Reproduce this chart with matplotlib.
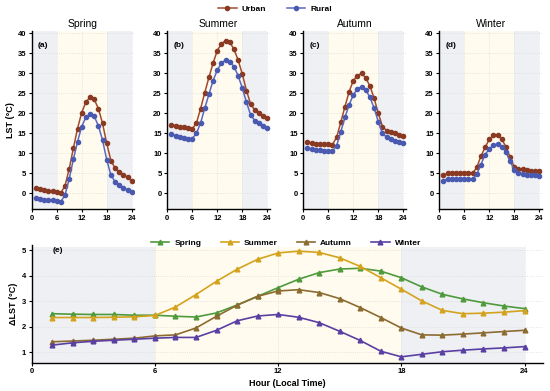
import matplotlib
matplotlib.use('Agg')
import matplotlib.pyplot as plt
import numpy as np

plt.rcParams['font.family'] = ['Liberation Sans', 'DejaVu Sans']

hours = list(range(1, 25))
seasons = ['Spring', 'Summer', 'Autumn', 'Winter']
panel_labels = ['(a)', '(b)', '(c)', '(d)']

# LST (°C) per season, urban and rural
urban_spring = [1.25, 1.0, 0.8, 0.6, 0.45, 0.3, 0.1, 1.9, 6.1, 11.25, 16.2, 20.2, 22.8, 24.0,
                23.5, 21.2, 17.5, 12.5, 8.2, 6.3, 5.3, 4.7, 4.0, 3.1]
rural_spring = [-1.1, -1.4, -1.6, -1.7, -1.8, -1.9, -2.1, -0.4, 3.6, 8.5, 12.9, 16.7, 19.0, 19.8,
                19.25, 16.9, 13.3, 8.4, 4.6, 2.9, 2.1, 1.3, 0.8, 0.25]
urban_summer = [17.2, 16.9, 16.7, 16.5, 16.3, 16.1, 17.6, 21.2, 25.2, 29.0, 32.6, 35.7, 37.4, 38.2,
                37.8, 36.0, 33.3, 29.8, 25.7, 22.3, 20.8, 20.0, 19.4, 18.8]
rural_summer = [14.75, 14.4, 14.1, 13.9, 13.7, 13.7, 15.0, 17.6, 21.3, 24.8, 28.2, 30.8, 32.6, 33.3,
                32.9, 31.7, 29.4, 26.3, 22.75, 19.6, 18.2, 17.5, 16.9, 16.25]
urban_autumn = [12.75, 12.5, 12.4, 12.3, 12.3, 12.25, 12.2, 14.0, 17.75, 21.7, 25.4, 28.2, 29.4, 30.0,
                28.8, 26.8, 23.75, 20.0, 16.7, 15.7, 15.25, 15.0, 14.7, 14.4]
rural_autumn = [11.25, 11.0, 10.9, 10.8, 10.7, 10.65, 10.5, 11.9, 15.4, 19.0, 22.1, 24.6, 26.1, 26.7,
                25.8, 24.0, 21.3, 17.9, 15.0, 14.0, 13.5, 13.2, 12.8, 12.5]
urban_winter = [4.5, 5.0, 5.0, 5.0, 5.0, 5.0, 5.0, 5.0, 6.5, 9.3, 11.5, 13.5, 14.5, 14.5,
                13.5, 11.6, 9.0, 6.6, 6.2, 6.0, 5.8, 5.7, 5.6, 5.6]
rural_winter = [3.2, 3.5, 3.5, 3.5, 3.5, 3.5, 3.5, 3.5, 4.8, 7.2, 9.7, 11.1, 12.1, 12.3,
                11.7, 10.25, 8.0, 5.8, 5.2, 4.9, 4.7, 4.6, 4.5, 4.4]

# ΔLST (°C) = urban - rural
dlst_spring = [2.52, 2.50, 2.49, 2.49, 2.46, 2.46, 2.42, 2.39, 2.55, 2.86, 3.20, 3.54, 3.87, 4.13,
               4.27, 4.30, 4.19, 3.93, 3.57, 3.28, 3.10, 2.95, 2.82, 2.72]
dlst_summer = [2.37, 2.37, 2.37, 2.38, 2.40, 2.45, 2.78, 3.27, 3.79, 4.26, 4.65, 4.90, 4.97, 4.92,
               4.71, 4.37, 3.93, 3.48, 3.02, 2.65, 2.52, 2.54, 2.58, 2.64]
dlst_autumn = [1.42, 1.45, 1.48, 1.52, 1.56, 1.65, 1.69, 1.96, 2.42, 2.85, 3.20, 3.41, 3.46, 3.35,
               3.11, 2.76, 2.37, 1.96, 1.69, 1.68, 1.72, 1.77, 1.82, 1.87]
dlst_winter = [1.29, 1.38, 1.44, 1.48, 1.52, 1.56, 1.59, 1.59, 1.87, 2.24, 2.43, 2.49, 2.38, 2.17,
               1.83, 1.47, 1.05, 0.83, 0.93, 1.03, 1.09, 1.14, 1.18, 1.23]

urban = [urban_spring, urban_summer, urban_autumn, urban_winter]
rural = [rural_spring, rural_summer, rural_autumn, rural_winter]
dlst = [dlst_spring, dlst_summer, dlst_autumn, dlst_winter]

c_urban, c_rural = '#a34a2c', '#5868c0'
season_colors = ['#4f9a3c', '#d4a31e', '#8c6b30', '#5a3fa3']
night_col, day_col = '#eef0f4', '#fffcef'
W, H = 550, 391


def style_axis(ax):
    for s in ['top', 'right']:
        ax.spines[s].set_visible(False)
    for s in ['left', 'bottom']:
        ax.spines[s].set_linewidth(1.0)
    ax.tick_params(length=2.5, width=0.8, pad=1.5, labelsize=5.5)
    for lab in ax.get_xticklabels() + ax.get_yticklabels():
        lab.set_fontweight('bold')
    ax.grid(True, color='#dcdcdc', linestyle=':', linewidth=0.6)
    ax.set_axisbelow(True)


def shade(ax, top):
    ax.axvspan(0, 6, ymax=top, color=night_col, lw=0, zorder=0)
    ax.axvspan(6, 18, ymax=top, color=day_col, lw=0, zorder=0)
    ax.axvspan(18, 24, ymax=top, color=night_col, lw=0, zorder=0)


def px_axes(fig, x0, y0, x1, y1):
    return fig.add_axes([x0 / W, 1 - y1 / H, (x1 - x0) / W, (y1 - y0) / H])


fig = plt.figure(figsize=(5.5, 3.91), dpi=100)

lefts = [31.7, 167.3, 303.3, 439.3]
for i in range(4):
    ax = px_axes(fig, lefts[i], 31.3, lefts[i] + 102.5, 209.3)
    shade(ax, 1)
    lu, = ax.plot(hours, urban[i], color=c_urban, marker='o', ms=3.0, lw=1.1,
                  mfc='#8a3a22', mec='#8a3a22', label='Urban')
    lr, = ax.plot(hours, rural[i], color=c_rural, marker='o', ms=3.0, lw=1.1,
                  mfc='#4a5ab0', mec='#4a5ab0', label='Rural')
    ax.set_xlim(0, 24.6)
    ax.set_ylim(-4, 40.5)
    ax.set_xticks([0, 6, 12, 18, 24])
    ax.set_yticks(range(0, 41, 5))
    ax.set_title(seasons[i], fontsize=7.5, pad=3)
    ax.text(1.5, 37, panel_labels[i], fontsize=6, fontweight='bold', va='center')
    style_axis(ax)
    if i == 0:
        ax.set_ylabel('LST (°C)', fontsize=6.5, fontweight='bold', labelpad=2)

fig.legend([lu, lr], ['Urban', 'Rural'], loc='center', bbox_to_anchor=(0.5, 1 - 9 / H),
           ncol=2, frameon=False, prop={'size': 6, 'weight': 'bold'},
           handlelength=2.2, columnspacing=2.5, handletextpad=0.6)

ax = px_axes(fig, 31.7, 245.3, 543, 362.7)
shade(ax, (5.13 - 0.6) / (5.2 - 0.6))
handles = []
for i in range(4):
    h, = ax.plot(hours, dlst[i], color=season_colors[i], marker='^', ms=3.4, lw=1.2,
                 label=seasons[i])
    handles.append(h)
ax.set_xlim(0, 24.9)
ax.set_ylim(0.6, 5.2)
ax.set_xticks([0, 6, 12, 18, 24])
ax.set_yticks([1, 2, 3, 4, 5])
ax.text(1.0, 5.0, '(e)', fontsize=6, fontweight='bold', va='center')
style_axis(ax)
ax.set_ylabel('ΔLST (°C)', fontsize=6.5, fontweight='bold', labelpad=3)
ax.set_xlabel('Hour (Local Time)', fontsize=6.5, fontweight='bold', labelpad=3)
ax.legend(handles=handles, loc='center', bbox_to_anchor=(286 / W, 1 - 243 / H),
          bbox_transform=fig.transFigure, ncol=4, frameon=False,
          prop={'size': 6, 'weight': 'bold'}, handlelength=2.2, columnspacing=2.3,
          handletextpad=0.6)

fig.savefig('out.png', dpi=100)
